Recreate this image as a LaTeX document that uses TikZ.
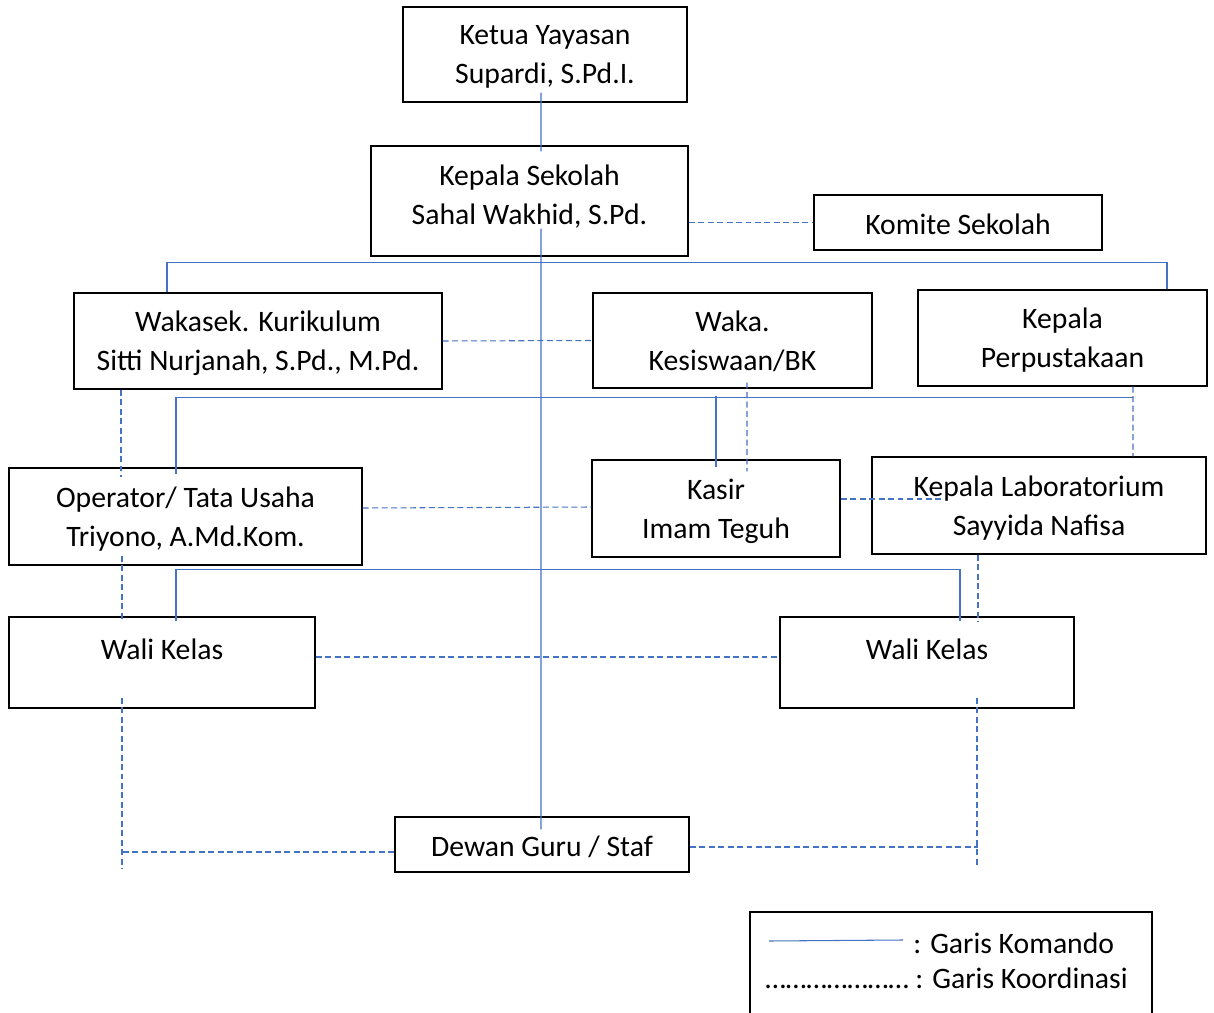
\documentclass[tikz,border=0pt]{standalone}
\usepackage{fontspec}
\setmainfont{Carlito}
\usetikzlibrary{calc,positioning}

\definecolor{garisblue}{HTML}{4472C4}

\begin{document}
\begin{tikzpicture}[x=0.02cm, y=-0.02cm,
    jabatan/.style={draw, line width=0.7pt, align=center, inner sep=0pt,
        font=\fontsize{16.9}{22}\selectfont, text depth=-0.3pt},
    jabatan1/.style={jabatan, text height=13.6pt, text depth=0pt},
    komando/.style={draw=garisblue, line width=0.6pt},
    koordinasi/.style={komando, dash pattern=on 3.4pt off 2pt}]

  \useasboundingbox (0,0) rectangle (1214,1013);

  % kotak jabatan
  \node[jabatan, minimum width=5.68cm, minimum height=1.90cm] (ketua)    at (545,54.5)   {Ketua Yayasan\\Supardi, S.Pd.I.};
  \node[jabatan, minimum width=6.34cm, minimum height=2.20cm, text depth=7pt] (kepsek) at (529.5,201) {Kepala Sekolah\\Sahal Wakhid, S.Pd.};
  \node[jabatan1, minimum width=5.76cm, minimum height=1.10cm] (komite)  at (958,222.5)  {Komite Sekolah};
  \node[jabatan, minimum width=7.36cm, minimum height=1.92cm] (wakur)    at (258,341)    {Wakasek. Kurikulum\\Sitti Nurjanah, S.Pd., M.Pd.};
  \node[jabatan, minimum width=5.58cm, minimum height=1.90cm] (wakes)    at (732.5,340.5) {Waka.\\Kesiswaan/BK};
  \node[jabatan, minimum width=5.78cm, minimum height=1.92cm] (perpus)   at (1062.5,338) {Kepala\\Perpustakaan};
  \node[jabatan, minimum width=7.06cm, minimum height=1.94cm] (operator) at (185.5,516.5) {Operator/ Tata Usaha\\Triyono, A.Md.Kom.};
  \node[jabatan, minimum width=4.96cm, minimum height=1.94cm] (kasir)    at (716,508.5)  {Kasir\\Imam Teguh};
  \node[jabatan, minimum width=6.68cm, minimum height=1.94cm] (lab)      at (1039,505.5) {Kepala Laboratorium\\Sayyida Nafisa};
  \node[jabatan1, minimum width=6.12cm, minimum height=1.82cm, text depth=17.4pt] (walia) at (162,662.5) {Wali Kelas};
  \node[jabatan1, minimum width=5.88cm, minimum height=1.82cm, text depth=17.4pt] (walib) at (927,662.5) {Wali Kelas};
  \node[jabatan1, minimum width=5.88cm, minimum height=1.10cm] (dewan)   at (542,844.5)  {Dewan Guru / Staf};

  % garis komando
  \draw[komando] ($(ketua.south)+(-4,-10)$) -- ($(kepsek.north)+(11.5,6)$);
  \draw[komando] ($(kepsek.south)+(11.5,-28)$) -- ($(dewan.north)+(-1,13)$);
  \draw[komando] (wakur.north -| 167,0) |- ($(perpus.north)+(104.5,-27)$) -- ($(perpus.north)+(104.5,0)$);
  \draw[komando] ($(operator.north)+(-9.5,7)$) |- ($(perpus.south)+(70.5,11)$);
  \draw[komando] ($(kasir.north)+(0,8)$) -- ++(0,-71);
  \draw[komando] ($(walia.north)+(14,5)$) |- ($(walib.north)+(33,-47)$) -- ($(walib.north)+(33,5)$);

  % garis koordinasi
  \draw[koordinasi] (kepsek.east |- komite.west) -- (komite.west);
  \draw[koordinasi] (wakur.east) -- (wakes.west);
  \draw[koordinasi] ($(wakur.south)+(-137,0)$) -- ++(0,87);
  \draw[koordinasi] ($(operator.south)+(-63.5,-10)$) -- ($(walia.north)+(-40,5)$);
  \draw[koordinasi] ($(walia.south)+(-40,-11)$) -- ++(0,171);
  \draw[koordinasi] ($(dewan.west)+(0,7.5)$) -- ++(-274,0);
  \draw[koordinasi] ($(wakes.south)+(14.5,-6)$) -- ($(kasir.north)+(31,12)$);
  \draw[koordinasi] ($(operator.east)+(0,-8.5)$) -- ($(kasir.west)+(0,-1.5)$);
  \draw[koordinasi] ($(kasir.east)+(0,-9.5)$) -- ++(100,0);
  \draw[koordinasi] ($(perpus.south)+(70.5,0)$) -- ($(lab.north)+(94,0)$);
  \draw[koordinasi] ($(lab.south)+(-61,0)$) -- ($(walib.north)+(51,5)$);
  \draw[koordinasi] ($(walia.east)+(0,-5.5)$) -- ($(walib.west)+(0,-5.5)$);
  \draw[koordinasi] ($(walib.south)+(50,-11)$) -- ++(0,170);
  \draw[koordinasi] ($(dewan.east)+(0,2.5)$) -- ++(288,0);

  % keterangan
  \draw[line width=0.7pt] (750,1013) |- (1152,912) -- (1152,1013);
  \node[anchor=west, inner sep=0pt, font=\fontsize{16.9}{22}\selectfont] (lgkomando) at (913,943) {: Garis Komando};
  \node[anchor=west, inner sep=0pt, font=\fontsize{16.9}{22}\selectfont] (lgkoordinasi) at (765,978) {………………… : Garis Koordinasi};
  \coordinate (lgawal) at (769,941);
  \draw[komando] (lgawal) -- ($(lgkomando.west)+(-10,-3)$);
\end{tikzpicture}
\end{document}
